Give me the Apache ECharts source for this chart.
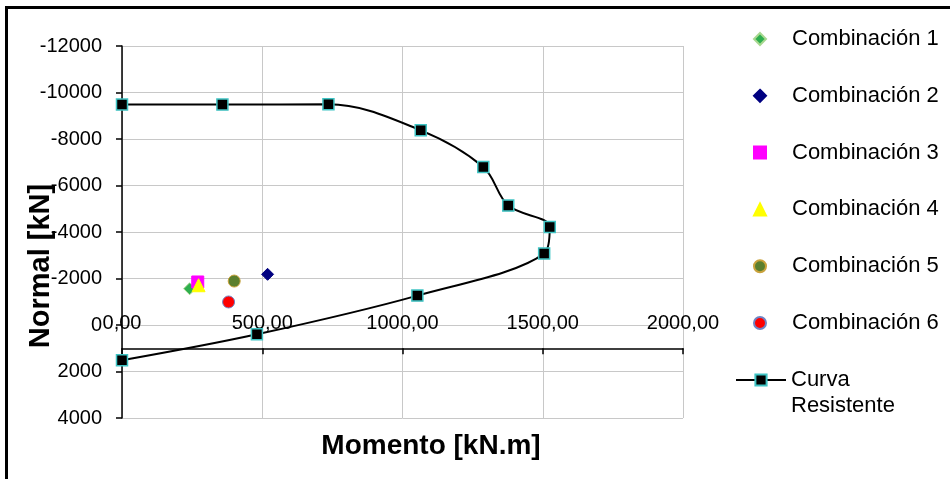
<!DOCTYPE html>
<html><head><meta charset="utf-8">
<script src="https://cdn.jsdelivr.net/npm/echarts@6/dist/echarts.min.js"></script>
<style>
html,body{margin:0;padding:0;background:#fff;overflow:hidden}
#frame{position:absolute;left:5px;top:6px;width:1000px;height:600px;border:3px solid #000;box-sizing:border-box}
#chart{position:absolute;left:0;top:0;width:950px;height:479px}
</style></head><body>
<div id="frame"></div>
<div id="chart"></div>
<script>
// Curva resistente (Momento kN.m, Normal kN)
const curveM = [0, 358, 736, 1065, 1288, 1377, 1525, 1505, 1053, 481, 0];
const curveN = [-9480, -9480, -9490, -8374, -6796, -5135, -4215, -3071, -1264, 400, 1518];
// Combinaciones
const comboNames = ['Combinación 1', 'Combinación 2', 'Combinación 3', 'Combinación 4', 'Combinación 5', 'Combinación 6'];
const comboM = [241, 519, 270, 273, 400, 380];
const comboN = [-1560, -2180, -1850, -1710, -1890, -990];
const comboSymbols = ['diamond', 'diamond', 'rect', 'triangle', 'circle', 'circle'];
const comboSizes = [12, 12, 12, 13, 12, 12];
const comboColors = ['#2EAE4E', '#000080', '#FF00FF', '#FFFF00', '#5B7F2E', '#FF0000'];
const comboBorders = ['#A8D890', '#000080', '#FF00FF', '#FFFF00', '#C9A23C', '#6F83C4'];
const xTicks = [0, 500, 1000, 1500, 2000];

const FONT = '"Liberation Sans", Arial, sans-serif';
const chart = echarts.init(document.getElementById('chart'), null, {renderer: 'canvas'});

const series = comboNames.map((name, i) => ({
  type: 'scatter',
  name: name,
  data: [[comboM[i], comboN[i]]],
  symbol: comboSymbols[i],
  symbolSize: comboSizes[i],
  itemStyle: {color: comboColors[i], borderColor: comboBorders[i], borderWidth: 1, opacity: 1},
  z: 4
}));
series.unshift({
  type: 'line',
  name: 'Curva Resistente',
  data: curveM.map((m, i) => [m, curveN[i]]),
  smooth: 0.35,
  symbol: 'rect',
  symbolSize: 11,
  lineStyle: {color: '#000', width: 2},
  itemStyle: {color: '#000', borderColor: '#3FC4C4', borderWidth: 1.5},
  z: 3
});

chart.setOption({
  animation: false,
  backgroundColor: 'transparent',
  grid: {left: 122, top: 46, right: 267, bottom: 61, containLabel: false},
  xAxis: {
    type: 'value', min: xTicks[0], max: xTicks[xTicks.length - 1], interval: 500, position: 'bottom',
    axisLine: {show: true, onZero: true, onZeroAxisIndex: 1, lineStyle: {color: '#000', width: 1.5}},
    axisTick: {show: true, inside: false, length: 6, lineStyle: {color: '#000', width: 1.5}},
    axisLabel: {margin: -95, verticalAlign: 'middle', fontSize: 20, color: '#000', fontFamily: FONT,
      formatter: v => v.toFixed(2).replace('.', ',')},
    splitLine: {show: true, lineStyle: {color: '#C8C8C8', width: 1}}
  },
  yAxis: [{
    type: 'value', inverse: true, min: -12000, max: 4000, interval: 2000, position: 'left',
    axisLine: {show: true, onZero: false, lineStyle: {color: '#000', width: 1.5}},
    axisTick: {show: true, inside: false, length: 6, lineStyle: {color: '#000', width: 1.5}},
    axisLabel: {margin: 20, fontSize: 20, color: '#000', fontFamily: FONT, formatter: v => String(v)},
    splitLine: {show: true, lineStyle: {color: '#C8C8C8', width: 1}}
  }, {
    type: 'value', inverse: true, min: -13000, max: 3000, show: false,
    axisLine: {show: false}, splitLine: {show: false}, axisLabel: {show: false}, axisTick: {show: false}
  }],
  legend: [{
    data: comboNames, orient: 'vertical', left: 753, top: 27, padding: 0,
    itemWidth: 12, itemHeight: 12, itemGap: 32.8,
    textStyle: {fontSize: 22, lineHeight: 24, color: '#000', fontFamily: FONT, padding: [0, 0, 0, 21]}
  }, {
    data: ['Curva Resistente'], orient: 'vertical', left: 735, top: 341, padding: 0,
    itemWidth: 50, itemHeight: 14,
    formatter: () => ' \nCurva\nResistente',
    textStyle: {fontSize: 22, lineHeight: 26, color: '#000', fontFamily: FONT}
  }],
  graphic: [{
    type: 'text', x: 431, y: 446,
    style: {text: 'Momento [kN.m]', font: 'bold 28px ' + FONT, fill: '#000',
      align: 'center', verticalAlign: 'middle', textAlign: 'center', textVerticalAlign: 'middle'}
  }, {
    type: 'text', x: 41, y: 266, rotation: Math.PI / 2,
    style: {text: 'Normal [kN]', font: 'bold 29px ' + FONT, fill: '#000',
      align: 'center', verticalAlign: 'middle', textAlign: 'center', textVerticalAlign: 'middle'}
  }],
  series: series
});
</script>
</body></html>
